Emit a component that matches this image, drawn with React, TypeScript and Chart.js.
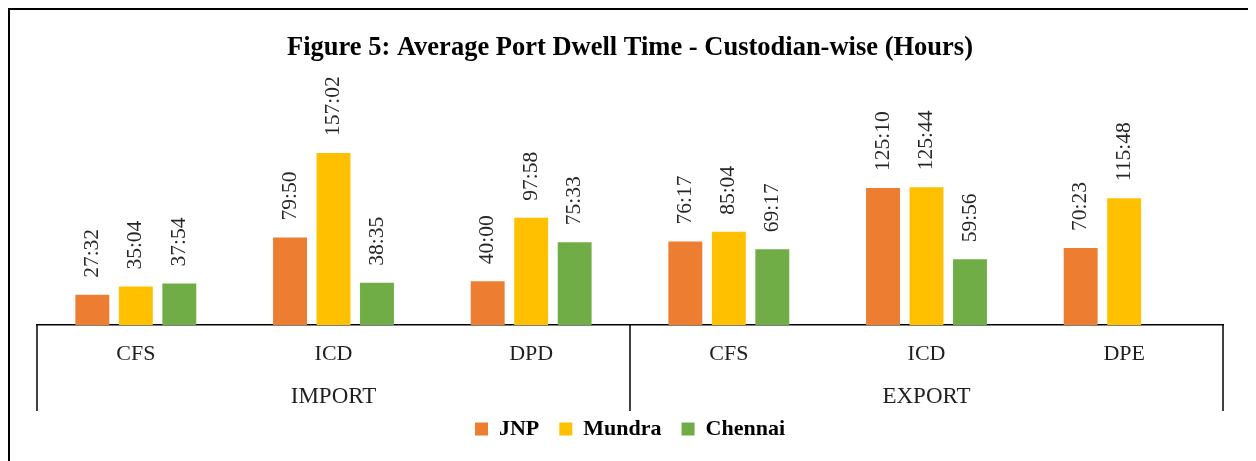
import { useEffect, useRef } from 'react';
import { Chart, registerables } from 'chart.js';

Chart.register(...registerables);

const categories = ['CFS', 'ICD', 'DPD', 'CFS', 'ICD', 'DPE'];
const groups = ['IMPORT', 'EXPORT'];
const groupSizes = [3, 3];
const seriesNames = ['JNP', 'Mundra', 'Chennai'];
const jnpTimes: (string | null)[] = ['27:32', '79:50', '40:00', '76:17', '125:10', '70:23'];
const mundraTimes: (string | null)[] = ['35:04', '157:02', '97:58', '85:04', '125:44', '115:48'];
const chennaiTimes: (string | null)[] = ['37:54', '38:35', '75:33', '69:17', '59:56', null];
const seriesColors = ['#ED7D31', '#FFC000', '#70AD47'];
const titleText = 'Figure 5: Average Port Dwell Time - Custodian-wise (Hours)';

const toHours = (t: string | null) => {
  if (!t) return null;
  const [h, m] = t.split(':').map(Number);
  return h + m / 60;
};

const timeSets = [jnpTimes, mundraTimes, chennaiTimes];
const FONT = '"Liberation Serif", "Times New Roman", serif';

const decorPlugin = {
  id: 'decor',
  afterDatasetsDraw(chart: any) {
    const ctx = chart.ctx as CanvasRenderingContext2D;
    ctx.save();
    ctx.font = `21.5px ${FONT}`;
    ctx.fillStyle = '#262626';
    ctx.textAlign = 'left';
    ctx.textBaseline = 'middle';
    chart.data.datasets.forEach((_ds: any, di: number) => {
      const meta = chart.getDatasetMeta(di);
      meta.data.forEach((el: any, i: number) => {
        const txt = timeSets[di][i];
        if (!txt) return;
        ctx.save();
        ctx.translate(el.x, el.y - 17);
        ctx.rotate(-Math.PI / 2);
        ctx.fillText(txt, 0, 0);
        ctx.restore();
      });
    });
    ctx.restore();
  },
  afterDraw(chart: any) {
    const ctx = chart.ctx as CanvasRenderingContext2D;
    const { left, right, bottom } = chart.chartArea;
    const xs = chart.scales.x;
    const bounds: number[] = [left];
    let idx = 0;
    groupSizes.forEach((n, gi) => {
      idx += n;
      if (gi < groupSizes.length - 1) {
        bounds.push((xs.getPixelForValue(idx - 1) + xs.getPixelForValue(idx)) / 2);
      }
    });
    bounds.push(right);
    ctx.save();
    ctx.strokeStyle = '#000';
    ctx.lineWidth = 1.5;
    bounds.forEach((x) => {
      ctx.beginPath();
      ctx.moveTo(x, bottom);
      ctx.lineTo(x, bottom + 86);
      ctx.stroke();
    });
    ctx.font = `23px ${FONT}`;
    ctx.fillStyle = '#1f1f1f';
    ctx.textAlign = 'center';
    ctx.textBaseline = 'middle';
    groups.forEach((g, gi) => {
      ctx.fillText(g, (bounds[gi] + bounds[gi + 1]) / 2, bottom + 72);
    });
    ctx.restore();
  },
};

export default function App() {
  const ref = useRef<HTMLCanvasElement | null>(null);
  useEffect(() => {
    if (!ref.current) return;
    const chart = new Chart(ref.current, {
      type: 'bar',
      data: {
        labels: categories,
        datasets: seriesNames.map((name, i) => ({
          label: name,
          data: timeSets[i].map(toHours),
          backgroundColor: seriesColors[i],
          borderWidth: 0,
          xAxisID: 'x',
          yAxisID: 'y',
          categoryPercentage: 0.66,
          barPercentage: 0.78,
        })),
      },
      options: {
        responsive: false,
        animation: false,
        events: [],
        layout: { padding: { left: 27, right: 27, top: 0, bottom: 11 } },
        plugins: {
          title: {
            display: true,
            text: titleText,
            color: '#000',
            font: { family: FONT, size: 26.5, weight: 'bold' },
            padding: { top: 22.1, bottom: 42.1 },
          },
          legend: {
            position: 'bottom',
            labels: {
              boxWidth: 13,
              boxHeight: 13,
              padding: 20,
              color: '#000',
              font: { family: FONT, size: 22, weight: 'bold' },
            },
          },
          tooltip: { enabled: false },
        },
        scales: {
          x: {
            type: 'category',
            position: 'bottom',
            grid: { display: false, drawTicks: false },
            border: { display: true, color: '#000', width: 1.5 },
            ticks: {
              font: { family: FONT, size: 22 },
              color: '#1f1f1f',
              padding: 15.8,
              maxRotation: 0,
              autoSkip: false,
            },
            afterFit: (s: any) => {
              s.height = 73;
            },
          },
          y: { display: false, min: 0, max: 200 },
        },
      },
      plugins: [decorPlugin],
    } as any);
    return () => chart.destroy();
  }, []);
  return (
    <div style={{ width: 1240, height: 460, border: '2px solid #000', background: '#fff' }}>
      <canvas ref={ref} width={1240} height={451} style={{ display: 'block' }} />
    </div>
  );
}
